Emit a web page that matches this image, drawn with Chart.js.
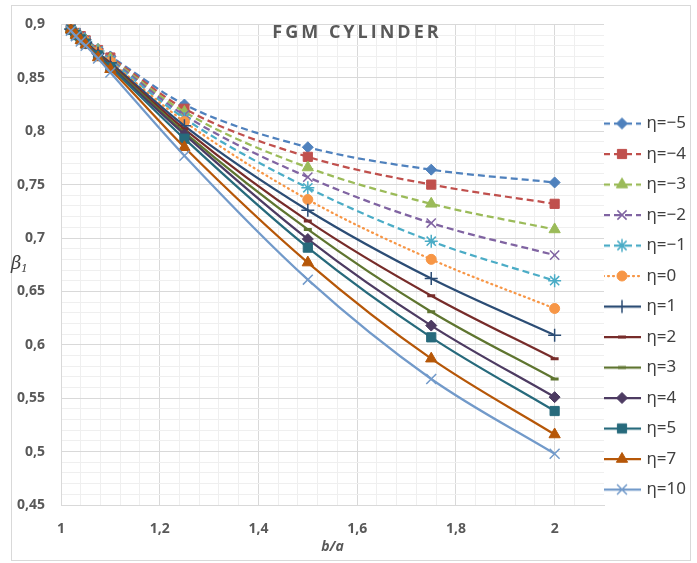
<!DOCTYPE html>
<html>
<head>
<meta charset="utf-8">
<script src="https://cdn.jsdelivr.net/npm/chart.js@4.4.0/dist/chart.umd.min.js"></script>
<style>
  html, body { margin: 0; padding: 0; background: #fff; }
</style>
</head>
<body>
<canvas id="chart" width="697" height="563"></canvas>
<script>
// b/a ratios (x axis)
const ratios = [1.02, 1.03, 1.04, 1.05, 1.075, 1.1, 1.25, 1.5, 1.75, 2];

// beta_1 for each eta
const beta_m5 = [0.896, 0.892, 0.889, 0.886, 0.877, 0.870, 0.825, 0.785, 0.764, 0.752];
const beta_m4 = [0.896, 0.892, 0.889, 0.885, 0.876, 0.869, 0.821, 0.776, 0.750, 0.732];
const beta_m3 = [0.896, 0.892, 0.888, 0.885, 0.876, 0.868, 0.818, 0.766, 0.732, 0.708];
const beta_m2 = [0.896, 0.892, 0.888, 0.884, 0.875, 0.867, 0.815, 0.757, 0.714, 0.684];
const beta_m1 = [0.896, 0.892, 0.888, 0.884, 0.875, 0.866, 0.812, 0.747, 0.697, 0.660];
const beta_0  = [0.896, 0.891, 0.887, 0.884, 0.874, 0.865, 0.809, 0.736, 0.680, 0.634];
const beta_1  = [0.8955, 0.891, 0.887, 0.883, 0.873, 0.864, 0.805, 0.726, 0.662, 0.609];
const beta_2  = [0.895, 0.891, 0.887, 0.883, 0.873, 0.863, 0.802, 0.716, 0.646, 0.587];
const beta_3  = [0.895, 0.891, 0.887, 0.882, 0.872, 0.862, 0.799, 0.708, 0.631, 0.568];
const beta_4  = [0.895, 0.891, 0.886, 0.882, 0.872, 0.861, 0.797, 0.699, 0.618, 0.551];
const beta_5  = [0.895, 0.890, 0.886, 0.882, 0.871, 0.860, 0.793, 0.691, 0.607, 0.538];
const beta_7  = [0.895, 0.890, 0.885, 0.881, 0.869, 0.858, 0.785, 0.677, 0.587, 0.516];
const beta_10 = [0.894, 0.889, 0.884, 0.880, 0.868, 0.855, 0.777, 0.661, 0.568, 0.498];

const seriesLabels = ['η=−5', 'η=−4', 'η=−3', 'η=−2', 'η=−1', 'η=0', 'η=1', 'η=2', 'η=3', 'η=4', 'η=5', 'η=7', 'η=10'];
const seriesValues = [beta_m5, beta_m4, beta_m3, beta_m2, beta_m1, beta_0, beta_1, beta_2, beta_3, beta_4, beta_5, beta_7, beta_10];

// look of each series (office palette, dashed for negative eta)
const DASH = [7, 4];
const DOT = [1, 4];
const STYLES = [
  { color: '#4F81BD', dash: DASH, point: 'rectRot', radius: 5.5, pw: 1 },
  { color: '#C0504D', dash: DASH, point: 'rect', radius: 6.5, pw: 1 },
  { color: '#9BBB59', dash: DASH, point: 'triangle', radius: 6.5, pw: 1 },
  { color: '#8064A2', dash: DASH, point: 'crossRot', radius: 6.5, pw: 1.5 },
  { color: '#4BACC6', dash: DASH, point: 'star', radius: 6.5, pw: 1.5 },
  { color: '#F79646', dash: DOT, point: 'circle', radius: 5, pw: 1, round: true },
  { color: '#2C4D75', dash: [], point: 'cross', radius: 6.5, pw: 1.5 },
  { color: '#772C2A', dash: [], point: 'line', radius: 4, pw: 3 },
  { color: '#5F7530', dash: [], point: 'line', radius: 4, pw: 3 },
  { color: '#4D3B62', dash: [], point: 'rectRot', radius: 5.5, pw: 1 },
  { color: '#276A7C', dash: [], point: 'rect', radius: 6.5, pw: 1 },
  { color: '#B65708', dash: [], point: 'triangle', radius: 6.5, pw: 1 },
  { color: '#729ACA', dash: [], point: 'crossRot', radius: 7, pw: 1.5 }
];

const TEXT = '#595959';
const MAJOR = '#d9d9d9';
const MINOR = '#efefef';

// line + marker sample used as legend symbol
function legendIcon(s) {
  const c = document.createElement('canvas');
  c.width = 40;
  c.height = 16;
  const g = c.getContext('2d');
  g.strokeStyle = s.color;
  g.lineWidth = 2.25;
  g.lineCap = s.round ? 'round' : 'butt';
  g.setLineDash(s.dash);
  g.beginPath();
  g.moveTo(1, 8);
  g.lineTo(39, 8);
  g.stroke();
  g.setLineDash([]);
  g.lineCap = 'butt';
  g.fillStyle = s.color;
  g.lineWidth = s.pw;
  Chart.helpers.drawPoint(g, { pointStyle: s.point, radius: s.radius, rotation: 0, borderWidth: s.pw }, 20, 8);
  return c;
}
const legendIcons = STYLES.map(legendIcon);

const datasets = seriesValues.map((vals, i) => {
  const s = STYLES[i];
  return {
    label: seriesLabels[i],
    data: ratios.map((x, j) => ({ x: x, y: vals[j] })),
    borderColor: s.color,
    backgroundColor: s.color,
    borderWidth: 2.25,
    borderDash: s.dash,
    borderCapStyle: s.round ? 'round' : 'butt',
    cubicInterpolationMode: 'monotone',
    pointStyle: s.point,
    pointRadius: s.radius,
    pointBackgroundColor: s.color,
    pointBorderColor: s.color,
    pointBorderWidth: s.pw,
    fill: false,
    order: seriesValues.length - i   // later series on top, like the original
  };
});

function commaLabel(v) {
  return String(Math.round(v * 100) / 100).replace('.', ',');
}

const chartDecor = {
  id: 'chartDecor',
  beforeDraw(chart) {
    const ctx = chart.ctx;
    ctx.save();
    ctx.fillStyle = '#fff';
    ctx.fillRect(0, 0, chart.width, chart.height);
    ctx.strokeStyle = MAJOR;
    ctx.lineWidth = 1;
    ctx.strokeRect(11.5, 5.5, chart.width - 18, chart.height - 8);
    ctx.restore();
  },
  afterDraw(chart) {
    const ctx = chart.ctx;
    ctx.save();
    // chart title inside the plot
    ctx.fillStyle = TEXT;
    ctx.font = 'bold 18px "Open Sans"';
    ctx.textAlign = 'center';
    ctx.textBaseline = 'alphabetic';
    ctx.letterSpacing = '3px';
    ctx.fillText('FGM CYLINDER', 357, 38);
    ctx.letterSpacing = '0px';
    // y axis title, horizontal, with subscript
    ctx.textAlign = 'left';
    ctx.fillStyle = '#404040';
    ctx.font = 'italic 18px "DejaVu Serif"';
    ctx.fillText('β', 11, 269);
    ctx.font = 'italic 11px "DejaVu Serif"';
    ctx.fillText('1', 21, 272);
    ctx.restore();
  }
};

new Chart(document.getElementById('chart'), {
  type: 'line',
  data: { datasets: datasets },
  options: {
    responsive: false,
    animation: false,
    layout: { padding: { left: 16, top: 17, right: 3, bottom: 8 } },
    plugins: {
      legend: {
        position: 'right',
        align: 'start',
        maxWidth: 90,
        title: { display: true, text: ' ', font: { size: 10 }, padding: { top: 84, bottom: 0 } },
        labels: {
          usePointStyle: true,
          pointStyleWidth: 32,
          padding: 2,
          color: '#404040',
          font: { family: 'Noto Sans', size: 17, lineHeight: 28.5 / 17 },
          generateLabels(chart) {
            const items = Chart.defaults.plugins.legend.labels.generateLabels(chart);
            items.sort((a, b) => a.datasetIndex - b.datasetIndex);
            items.forEach(it => {
              it.pointStyle = legendIcons[it.datasetIndex];
              it.text = [it.text];
            });
            return items;
          }
        }
      },
      tooltip: { enabled: false }
    },
    scales: {
      x: {
        type: 'linear',
        min: 1,
        max: 2.1,
        afterFit(scale) { scale.height = 50; },
        ticks: {
          stepSize: 0.04,
          autoSkip: false,
          maxRotation: 0,
          padding: 16,
          color: TEXT,
          font: { family: 'Open Sans', size: 14, weight: 'bold' },
          callback: v => (Math.round(v * 100) % 20 === 0 ? commaLabel(v) : '')
        },
        grid: {
          drawTicks: false,
          color: c => {
            const v = Math.round(c.tick.value * 100);
            if (v > 208) return 'rgba(0,0,0,0)';
            return v % 20 === 0 ? MAJOR : MINOR;
          }
        },
        border: { color: MAJOR },
        title: {
          display: true,
          text: 'b/a',
          color: TEXT,
          font: { family: 'Open Sans', size: 14, weight: 'bold', style: 'italic' },
          padding: { top: 0, bottom: 0 }
        }
      },
      y: {
        min: 0.45,
        max: 0.9,
        afterFit(scale) { scale.width = 45; },
        ticks: {
          stepSize: 0.01,
          autoSkip: false,
          padding: 16,
          color: TEXT,
          font: { family: 'Open Sans', size: 14, weight: 'bold' },
          callback: v => (Math.round(v * 100) % 5 === 0 ? commaLabel(v) : '')
        },
        grid: {
          drawTicks: false,
          color: c => (Math.round(c.tick.value * 100) % 5 === 0 ? MAJOR : MINOR)
        },
        border: { color: MAJOR }
      }
    }
  },
  plugins: [chartDecor]
});
</script>
</body>
</html>
